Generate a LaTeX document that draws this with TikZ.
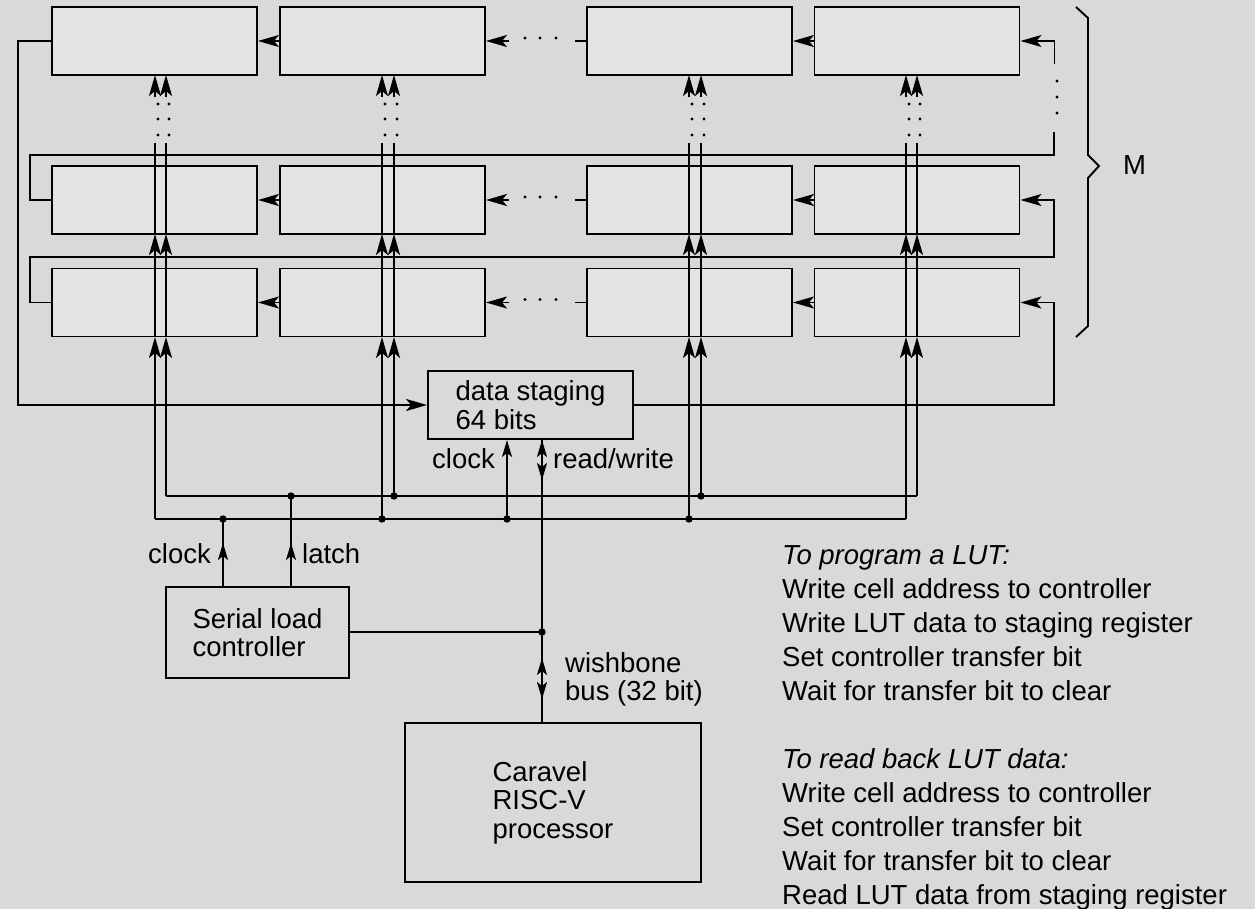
\documentclass[tikz,border=0pt]{standalone}
\usepackage{fontspec}
\setmainfont{Liberation Sans}
\usepackage{tikz}
\usetikzlibrary{arrows.meta,positioning,calc}
\definecolor{bggray}{RGB}{217,217,217}
\definecolor{cellgray}{RGB}{228,228,228}
\tikzset{
    % 单元格
    cellbox/.style={
        draw,
        line width=1.9pt,
        fill=cellgray,
        minimum width=205pt,
        minimum height=68pt,
        inner sep=0pt
    },
    plainbox/.style={
        draw,
        line width=1.9pt,
        fill=bggray,
        align=left,
        inner sep=0pt,
        font=\fontsize{27.5}{28.5}\selectfont
    },
    wire/.style={line width=1.9pt},
    bigarrow/.style={
        line width=1.9pt,
        -{Stealth[length=21pt, width=12pt, inset=5pt]}
    },
    smallarrow/.style={
        line width=1.9pt,
        -{Stealth[length=17pt, width=10pt, inset=4pt]}
    },
    twoarrow/.style={
        line width=1.9pt,
        {Stealth[length=17pt, width=10pt, inset=4pt]}-{Stealth[length=17pt, width=10pt, inset=4pt]}
    },
    lbl/.style={inner sep=0pt, font=\fontsize{27.5}{28.5}\selectfont},
    note/.style={inner sep=0pt, align=left, font=\fontsize{27.5}{34}\selectfont}
}

\begin{document}
\begin{tikzpicture}[x=1pt,y=-1pt]
	\fill[bggray] (0,0) rectangle (1255,909);
	\useasboundingbox (0,0) rectangle (1255,909);
	
	% 单元格阵列
	\node[cellbox] (a1) at (154.5,41) {};
	\node[cellbox] (b1) at (382.5,41) {};
	\node[cellbox] (c1) at (689.5,41) {};
	\node[cellbox] (d1) at (917,41) {};
	\node[cellbox] (a2) at (154.5,200) {};
	\node[cellbox] (b2) at (382.5,200) {};
	\node[cellbox] (c2) at (689.5,200) {};
	\node[cellbox] (d2) at (917,200) {};
	\node[cellbox] (a3) at (154.5,302.5) {};
	\node[cellbox] (b3) at (382.5,302.5) {};
	\node[cellbox] (c3) at (689.5,302.5) {};
	\node[cellbox] (d3) at (917,302.5) {};
	
	% 其他方框
	\node[plainbox, minimum width=205pt, minimum height=68pt] (stage) at (530.5,405) {data staging\\64 bits};
	\node[plainbox, minimum width=183pt, minimum height=91pt] (slc) at (257.5,632.5) {Serial load\\controller};
	\node[plainbox, minimum width=296pt, minimum height=159pt] (cpu) at (553,802.5) {Caravel\\RISC-V\\processor};
	
	\path
	(223,519) coordinate (j1)
	(291,496) coordinate (j2)
	(382,519) coordinate (j3)
	(394,496) coordinate (j4)
	(507,519) coordinate (j5)
	(689,519) coordinate (j6)
	(701,496) coordinate (j7)
	(542,632) coordinate (j8);
	
	% 行内移位链
	\draw[bigarrow] (b1.west) -- (a1.east);
	\draw[bigarrow] (d1.west) -- (c1.east);
	\draw[wire] (c1.west) -- ++(-11,0);
	\draw[bigarrow] (b1.east) ++(23,0) -- (b1.east);
	\draw[bigarrow] (b2.west) -- (a2.east);
	\draw[bigarrow] (d2.west) -- (c2.east);
	\draw[wire] (c2.west) -- ++(-11,0);
	\draw[bigarrow] (b2.east) ++(23,0) -- (b2.east);
	\draw[bigarrow] (b3.west) -- (a3.east);
	\draw[bigarrow] (d3.west) -- (c3.east);
	\draw[wire] (c3.west) -- ++(-11,0);
	\draw[bigarrow] (b3.east) ++(23,0) -- (b3.east);
	\foreach \y in {38,197,299.5}
	\fill (525,\y) circle (1.7pt) (540,\y) circle (1.7pt) (556,\y) circle (1.7pt);
	
	% 行间回路
	\draw[bigarrow] (d1.east) ++(34,23) -- ++(0,-23) -- (d1.east);
	\fill (1057,81) circle (1.7pt) (1057,97) circle (1.7pt) (1057,113) circle (1.7pt);
	\draw[wire] (1054,132) -- (1054,155) -- (30,155) -- (30,200) -- (a2.west);
	\draw[bigarrow] (a3.west) -- (30,302.5) -- (30,257) -- (1054,257) -- (1054,200) -- (d2.east);
	\draw[bigarrow] (a1.west) -- (18,41) -- (18,405) -- (stage.west);
	\draw[bigarrow] (stage.east) -- (1054,405) -- (1054,302.5) -- (d3.east);
	
	% 时钟与锁存
	\foreach \x/\yb in {155/519,166/496,382/519,394/496,689/519,701/496,906/519,917/496}{
		\draw[bigarrow] (\x,\yb) -- (\x,337);
		\draw[bigarrow] (\x,337) -- (\x,234);
		\draw[wire] (\x,234) -- (\x,143);
		\draw[bigarrow] (\x,97) -- (\x,75);
		\fill (\x+3,104) circle (1.7pt) (\x+3,119) circle (1.7pt) (\x+3,135) circle (1.7pt);
	}
	\draw[wire] (155,519) -- (906,519);
	\draw[wire] (166,496) -- (917,496);
	\draw[wire] (slc.north -| j1) -- (j1);
	\draw[wire] (slc.north -| j2) -- (j2);
	\draw[smallarrow] (223,561) -- (223,543);
	\draw[smallarrow] (291,561) -- (291,543);
	\draw[smallarrow] (j5) -- (stage.south -| j5);
	
	% 总线
	\draw[wire] (stage.south -| j8) -- (cpu.north -| j8);
	\draw[wire] (slc.east |- j8) -- (j8);
	\draw[twoarrow] (542,440) -- (542,480);
	\draw[twoarrow] (542,658) -- (542,699);
	
	% 连接点
	\fill (j1) circle (3.7pt) (j2) circle (3.7pt) (j3) circle (3.7pt) (j4) circle (3.7pt)
	(j5) circle (3.7pt) (j6) circle (3.7pt) (j7) circle (3.7pt) (j8) circle (3.7pt);
	
	% 括号
	\draw[wire] (1076,7) -- (1088,18) -- (1088,155) -- (1099,166) -- (1088,178) -- (1088,326) -- (1076,337);
	
	% 文字标注
	\node[lbl, anchor=base west] (mlab) at (1123,175) {M};
	\node[lbl, anchor=base east] (clkA) at (211,563) {clock};
	\node[lbl, anchor=base west] (latch) at (302,563) {latch};
	\node[lbl, anchor=base east] (clkB) at (495,468) {clock};
	\node[lbl, anchor=base west] (rw) at (553,468) {read/write};
	\node[lbl, align=left, anchor=north west] (wb) at (565,652) {wishbone\\bus (32 bit)};
	\node[note, anchor=north west] (prog) at (782,545) {\textit{To program a LUT:}\\Write cell address to controller\\Write LUT data to staging register\\Set controller transfer bit\\Wait for transfer bit to clear};
	\node[note, anchor=north west] (read) at (782,748) {\textit{To read back LUT data:}\\Write cell address to controller\\Set controller transfer bit\\Wait for transfer bit to clear\\Read LUT data from staging register};
\end{tikzpicture}
\end{document}
